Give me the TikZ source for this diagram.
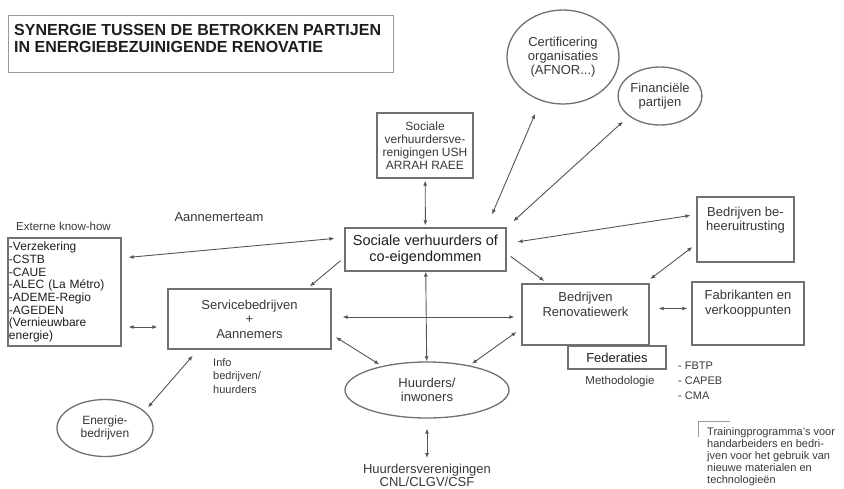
\documentclass[tikz,border=0pt]{standalone}
\usepackage{fontspec}
\setmainfont{Liberation Sans}
\usepackage{tikz}
\usetikzlibrary{arrows.meta,positioning,shapes.geometric}
\definecolor{rand}{HTML}{707070}
\definecolor{lijn}{HTML}{555555}
\definecolor{tekst}{HTML}{383838}
\definecolor{donker}{HTML}{1E1E1E}
\tikzset{
  kader/.style={draw=rand, line width=1.3pt, fill=white, align=center, text=tekst, inner sep=1pt,
    font=\fontsize{13}{14.5}\selectfont},
  ovaal/.style={draw=rand, line width=1.3pt, ellipse, fill=white, align=center, text=tekst, inner sep=0pt,
    font=\fontsize{13}{14.5}\selectfont},
  txt/.style={text=tekst, align=center, inner sep=1pt, font=\fontsize{13}{14.5}\selectfont},
  pijl/.style={draw=lijn, line width=0.9pt, {Latex[length=5pt,width=4pt]}-{Latex[length=5pt,width=4pt]}},
  enkel/.style={draw=lijn, line width=0.9pt, -{Latex[length=5pt,width=4pt]}},
  gat/.style 2 args={shorten <=#1, shorten >=#2}
}
\begin{document}
\begin{tikzpicture}[x=1pt, y=-1pt]
  \useasboundingbox (0,0) rectangle (844,488);
  % titel
  \node[kader, draw=rand!70, line width=1pt, minimum width=385pt, minimum height=57pt, anchor=north west] (titel) at (8,15) {};
  \node[txt, text=donker, align=left, anchor=north west, font=\bfseries\fontsize{16}{16.5}\selectfont]
    (titeltxt) at ([shift={(5pt,-8.5pt)}]titel.north west)
    {SYNERGIE TUSSEN DE BETROKKEN PARTIJEN\\IN ENERGIEBEZUINIGENDE RENOVATIE};
  % midden
  \node[kader, minimum width=161pt, minimum height=43pt, text=donker, font=\fontsize{14.5}{16}\selectfont]
    (soc) at (425.5,249.5) {Sociale verhuurders of\\co-eigendommen};
  \node[kader, minimum width=96pt, minimum height=65pt, font=\fontsize{12}{13}\selectfont]
    (ush) at (425,145.5) {Sociale\\verhuurdersve-\\renigingen USH\\ARRAH RAEE};
  \node[ovaal, minimum width=112pt, minimum height=94pt, font=\fontsize{13}{14}\selectfont]
    (cert) at (563,57) {Certificering\\organisaties\\(AFNOR...)};
  \node[ovaal, minimum width=82pt, minimum height=58pt] (fin) at (660,96) {Financiële\\partijen};
  % rechts
  \node[kader, minimum width=97pt, minimum height=65pt] (behe) at (745.5,229.5) {};
  \node[txt, below=9.5pt of behe.north] (behetxt) {Bedrijven be-\\heeruitrusting};
  \node[kader, minimum width=112pt, minimum height=63pt] (fabr) at (748,313.5) {};
  \node[txt, below=8pt of fabr.north] (fabrtxt) {Fabrikanten en\\verkooppunten};
  \node[kader, minimum width=127pt, minimum height=61pt] (reno) at (585.5,314.5) {};
  \node[txt, below=8pt of reno.north] (renotxt) {Bedrijven\\Renovatiewerk};
  \node[kader, minimum width=98pt, minimum height=23pt, text=donker] (fed) at (617,357.5) {Federaties};
  \node[txt, font=\fontsize{11.5}{13}\selectfont] (meth) at (620,382) {Methodologie};
  \node[txt, align=left, anchor=north west, font=\fontsize{11}{15}\selectfont]
    (fbtp) at (677,361) {- FBTP\\- CAPEB\\- CMA};
  % links
  \node[kader, minimum width=113pt, minimum height=108pt, text width=111pt, align=left, text=donker,
    font=\fontsize{12}{12.7}\selectfont] (ext) at (64.5,292)
    {-Verzekering\\-CSTB\\-CAUE\\-ALEC (La Métro)\\-ADEME-Regio\\-AGEDEN\\(Vernieuwbare\\energie)};
  \node[txt, font=\fontsize{11.5}{13}\selectfont] (extlbl) at (63.5,226) {Externe know-how};
  \node[txt] (team) at (219,217) {Aannemerteam};
  \node[kader, minimum width=163pt, minimum height=60pt] (serv) at (249.5,319) {Servicebedrijven\\+\\Aannemers};
  \node[txt, align=left, anchor=north west, font=\fontsize{11}{13.5}\selectfont]
    (info) at (212,357) {Info\\bedrijven/\\huurders};
  \node[ovaal, minimum width=96pt, minimum height=57pt, font=\fontsize{12}{12.5}\selectfont]
    (ener) at (105,428) {Energie-\\bedrijven};
  % onder
  \node[ovaal, minimum width=164pt, minimum height=56pt] (huur) at (427,390) {Huurders/\\inwoners};
  \node[txt, anchor=north, font=\fontsize{13}{12}\selectfont]
    (hver) at (427,463) {Huurdersverenigingen\\CNL/CLGV/CSF};
  \node[txt, align=left, anchor=north west, font=\fontsize{11}{12}\selectfont] (training) at (706,426.5)
    {Trainingprogramma's voor\\handarbeiders en bedri-\\jven voor het gebruik van\\nieuwe materialen en\\technologieën};
  \draw[rand!70, line width=1pt] ([shift={(-8pt,-10.5pt)}]training.north west) |- ([shift={(24pt,5.5pt)}]training.north west);
  % verbindingen
  \draw[pijl, gat={2pt}{2pt}] (ush) -- (soc);
  \draw[pijl, gat={14pt}{14pt}] (cert.243) -- ([xshift=61pt]soc.north);
  \draw[pijl, gat={8pt}{9pt}] (fin.213) -- (soc.north east);
  \draw[pijl, gat={7pt}{10pt}] ([yshift=34pt]ext.east) -- ([yshift=12pt]soc.west);
  \draw[enkel, gat={5pt}{3pt}] ([yshift=-8pt]soc.west) -- ([xshift=58pt]serv.north);
  \draw[pijl, gat={11pt}{6pt}] ([yshift=6pt]soc.east) -- ([yshift=15pt]behe.west);
  \draw[enkel, gat={5pt}{4pt}] ([yshift=-4pt]soc.east) -- ([xshift=-38pt]reno.north);
  \draw[pijl, gat={5pt}{7pt}] ([yshift=-14.5pt]behe.west) -- ([xshift=-5pt]reno.north east);
  \draw[pijl, gat={9pt}{4pt}] ([yshift=6pt]reno.east) -- ([yshift=6pt]reno.east -| fabr.west);
  \draw[pijl, gat={11pt}{7pt}] ([yshift=2pt]serv.east) -- ([yshift=2pt]serv.east -| reno.west);
  \draw[pijl] (soc) -- (huur);
  \draw[pijl, gat={5pt}{3pt}] ([yshift=-15.5pt]serv.east) -- (huur.152);
  \draw[pijl, gat={6pt}{3pt}] ([yshift=-14pt]reno.west) -- (huur.30);
  \draw[pijl, gat={7pt}{10pt}] ([yshift=-35pt]ext.east) -- ([yshift=-35pt]ext.east -| serv.west);
  \draw[pijl, gat={8pt}{5pt}] ([xshift=-51.5pt]serv.south) -- (ener.23);
  \draw[pijl, gat={10pt}{5pt}] (huur) -- (hver);
\end{tikzpicture}
\end{document}
